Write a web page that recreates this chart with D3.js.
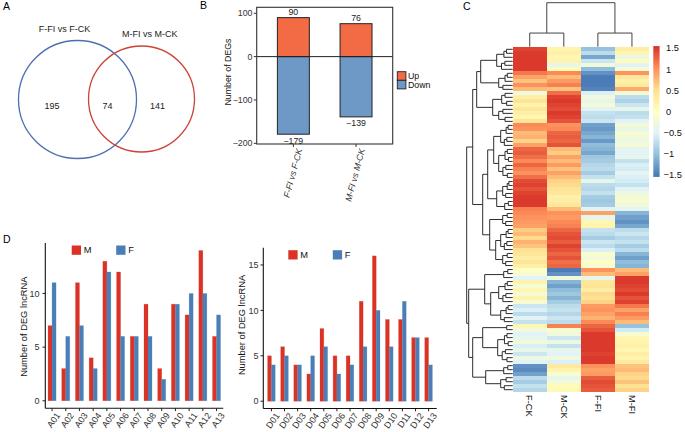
<!DOCTYPE html>
<html><head><meta charset="utf-8">
<script src="https://cdn.jsdelivr.net/npm/d3@7"></script>
<style>
body{margin:0;background:#fff;}
svg{display:block;font-family:"Liberation Sans",Arial,Helvetica,sans-serif;}
</style></head><body>
<svg id="c" width="685" height="432"></svg>
<script>
// ---------------- DATA ----------------
const vennSets = ["F-FI vs F-CK", "M-FI vs M-CK"];
const vennCounts = [195, 74, 141]; // only F, both, only M

const degComparisons = ["F-FI vs F-CK", "M-FI vs M-CK"];
const degUp = [90, 76];
const degDown = [-179, -139];
const degTicks = [100, 0, -100, -200];
const degLegend = ["Up", "Down"];

const heatCols = ["F-CK", "M-CK", "F-FI", "M-FI"];
const heatRows = [
  [1.45, 0.2, -1.0, 0.3], [1.5, 0.25, -0.75, 0.15], [1.5, 0.15, -1.2, -0.35], [1.5, 0.2, -0.65, 0.05],
  [1.5, -0.4, -0.25, -0.5], [1.5, 0.05, -1.05, -0.2],
  [1.15, 1.05, -1.35, 1.0], [0.9, 0.75, -1.5, 0.4], [0.7, 0.95, -1.5, 0.25], [1.0, 1.1, -1.5, 0.35], [0.75, 0.7, -1.45, 0.85],
  [-0.25, 1.2, -0.55, -0.2], [0.25, 1.45, -0.25, -0.75], [0.45, 1.5, -0.4, -0.85], [0.2, 1.45, -0.2, -0.65],
  [0.4, 1.4, -0.5, -0.4], [0.25, 1.5, -0.7, -0.75], [0.15, 1.45, -0.75, -0.7], [0.45, 1.35, -0.65, -0.5],
  [1.05, 1.0, -1.25, -0.2], [1.0, 1.05, -1.3, -0.4], [0.75, 1.25, -1.2, -0.15], [0.8, 1.3, -1.1, -0.25],
  [0.6, 1.25, -1.3, -0.3], [0.9, 1.35, -1.05, -0.2],
  [1.25, 0.75, -1.1, -0.45], [1.3, 0.65, -1.2, -0.5], [1.2, 0.9, -0.95, -0.4], [1.05, 0.75, -0.9, -0.7],
  [1.25, 0.95, -0.8, -0.55], [1.1, 0.7, -0.75, -0.6], [1.0, 0.9, -0.9, -0.45], [1.2, 0.75, -0.7, -0.55],
  [1.4, 0.6, -0.4, -0.6], [1.45, 0.55, -0.75, -0.7], [1.35, 0.45, -0.8, -0.5], [1.45, 0.4, -0.7, -0.3],
  [1.5, 0.25, -0.9, -0.2], [1.5, 0.3, -0.95, -0.15], [1.5, 0.4, -0.9, -0.25], [1.1, 0.75, -0.5, -0.45],
  [1.05, 1.0, 0.9, -1.1], [1.0, 0.95, -0.4, -1.25], [0.95, 1.05, 0.15, -1.35], [0.9, 1.1, 0.2, -1.2],
  [0.65, 1.25, -0.7, -0.75], [0.75, 1.35, -0.75, -0.65], [0.55, 1.4, -0.9, -0.8], [0.8, 1.3, -0.65, -0.7],
  [0.7, 1.45, -0.75, -0.9], [0.5, 1.35, -0.55, -0.75],
  [0.4, 1.25, -0.15, -1.1], [0.3, 1.35, -0.2, -1.25], [0.45, 1.2, -0.05, -1.05], [0.25, 1.25, -0.15, -1.1],
  [-0.05, -1.5, 1.0, 0.75], [-0.15, -1.35, 0.75, 0.9], [-0.5, -0.25, -0.4, 1.5],
  [0.2, -1.1, 0.4, 1.5], [-0.15, -1.25, 0.45, 1.45], [0.15, -1.05, 0.3, 1.4], [-0.2, -0.95, 0.55, 1.5],
  [0.2, -1.1, 0.5, 1.35], [-0.15, -0.9, 0.6, 1.45],
  [-0.65, -0.75, 0.95, 1.15], [-0.55, -0.7, 1.0, 0.9], [-0.75, -0.8, 0.9, 1.1], [-0.5, -0.65, 0.8, 0.95],
  [-0.7, -0.75, 1.05, 0.75],
  [0.15, 1.1, 1.25, -1.0], [-0.25, -0.15, 1.35, -0.6],
  [-0.5, -0.25, 1.5, -0.15], [-0.4, -0.65, 1.5, 0.15], [-0.25, -0.3, 1.5, 0.2], [-0.55, -0.7, 1.5, 0.25],
  [-0.4, -0.4, 1.5, 0.15], [-0.65, -0.5, 1.45, 0.3], [-0.3, -0.25, 1.5, 0.2], [-0.5, -0.55, 1.5, 0.35],
  [-1.35, 0.35, 1.0, 0.7], [-1.4, 0.2, 0.9, 0.75], [-1.25, -0.15, 0.95, 0.6],
  [-0.75, -0.4, 1.3, 0.55], [-0.9, -0.2, 1.4, 0.7], [-0.7, 0.05, 1.35, 0.5], [-0.8, 0.1, 1.3, 0.6]
];
const heatLegendTicks = [1.5, 1, 0.5, 0, -0.5, -1, -1.5];
// row dendrogram: [height, left, right]; leaf blocks {r:[first,last], d:height}
const rowTree = [46,
  [40,
    [36, [32, {r:[0,5], d:16}, {r:[6,10], d:14}], {r:[11,18], d:20}],
    [30,
      [25, [19, {r:[19,24], d:12}, {r:[25,32], d:14}], [16, {r:[33,37], d:10}, {r:[38,40], d:8}]],
      [23, {r:[41,44], d:10}, [17, {r:[45,50], d:12}, {r:[51,54], d:10}]]]],
  [44,
    [28, {r:[55,57], d:9}, [22, {r:[58,63], d:14}, {r:[64,68], d:12}]],
    [40, [30, {r:[69,70], d:6}, {r:[71,78], d:15}], [27, {r:[79,81], d:9}, {r:[82,85], d:12}]]]
];
const colTree = [1, [0.31, 0, 1], [0.31, 2, 3]];

const groupsA = ["A01","A02","A03","A04","A05","A06","A07","A08","A09","A10","A11","A12","A13"];
const mA = [7, 3, 11, 4, 13, 12, 6, 9, 3, 9, 8, 14, 6];
const fA = [11, 6, 7, 3, 12, 6, 6, 6, 2, 9, 10, 10, 8];
const ticksA = [0, 5, 10];
const groupsD = ["D01","D02","D03","D04","D05","D06","D07","D08","D09","D10","D11","D12","D13"];
const mD = [5, 6, 4, 3, 8, 5, 5, 11, 16, 9, 9, 7, 7];
const fD = [4, 5, 4, 5, 6, 3, 4, 6, 10, 6, 11, 7, 4];
const ticksD = [0, 5, 10, 15];
const sexKeys = ["M", "F"];

// ---------------- DRAW ----------------
const svg = d3.select("#c");
const TXT = "#333";

// panel labels
[["A",3,10],["B",200,9],["C",463,10],["D",3,243]].forEach(([t,x,y]) =>
  svg.append("text").attr("x",x).attr("y",y).attr("font-size",10.5).attr("fill","#000").text(t));

// ===== Panel A: Venn =====
const gA = svg.append("g");
gA.append("circle").attr("cx",77.5).attr("cy",99.5).attr("r",59).attr("fill","none").attr("stroke","#4F70B0").attr("stroke-width",1.3);
gA.append("circle").attr("cx",141.5).attr("cy",99).attr("r",53).attr("fill","none").attr("stroke","#CC4336").attr("stroke-width",1.3);
gA.append("text").attr("x",64.5).attr("y",32).attr("text-anchor","middle").attr("font-size",9).attr("fill","#222").text(vennSets[0]);
gA.append("text").attr("x",149.7).attr("y",37.3).attr("text-anchor","middle").attr("font-size",9).attr("fill","#222").text(vennSets[1]);
[52, 107.5, 157.5].forEach((x,i) =>
  gA.append("text").attr("x",x).attr("y",109).attr("text-anchor","middle").attr("font-size",9).attr("fill","#222").text(vennCounts[i]));

// ===== Panel B: up/down bars =====
const gB = svg.append("g");
const bx = d3.scaleBand().domain(degComparisons).range([256.7, 392.7]).paddingInner(0.49).paddingOuter(0.33);
const by = d3.scaleLinear().domain([-201.6, 113.8]).range([144, 7.3]);
const upCol = "#F36B44", downCol = "#6E99C6";
degComparisons.forEach((c,i) => {
  gB.append("rect").attr("x",bx(c)).attr("width",bx.bandwidth()).attr("y",by(degUp[i])).attr("height",by(0)-by(degUp[i]))
    .attr("fill",upCol).attr("stroke","#222").attr("stroke-width",1);
  gB.append("rect").attr("x",bx(c)).attr("width",bx.bandwidth()).attr("y",by(0)).attr("height",by(degDown[i])-by(0))
    .attr("fill",downCol).attr("stroke","#222").attr("stroke-width",1);
  gB.append("text").attr("x",bx(c)+bx.bandwidth()/2).attr("y",by(degUp[i])-2.5).attr("text-anchor","middle")
    .attr("font-size",8.8).attr("fill","#222").text(degUp[i]);
  gB.append("text").attr("x",bx(c)+bx.bandwidth()/2).attr("y",by(degDown[i])+3).attr("dy","0.72em").attr("text-anchor","middle")
    .attr("font-size",8.8).attr("fill","#222").text("\u2212"+Math.abs(degDown[i]));
});
gB.append("line").attr("x1",256.7).attr("x2",392.7).attr("y1",by(0)).attr("y2",by(0)).attr("stroke","#222").attr("stroke-width",1);
gB.append("rect").attr("x",256.7).attr("y",7.3).attr("width",136).attr("height",136.7).attr("fill","none").attr("stroke","#333").attr("stroke-width",1.1);
degTicks.forEach(t => {
  gB.append("line").attr("x1",253.8).attr("x2",256.7).attr("y1",by(t)).attr("y2",by(t)).attr("stroke","#333");
  gB.append("text").attr("x",252.5).attr("y",by(t)).attr("dy","0.35em").attr("text-anchor","end").attr("font-size",8.8).attr("fill",TXT)
    .text(t < 0 ? "\u2212" + Math.abs(t) : t);
});
degComparisons.forEach(c => {
  const cx = bx(c) + bx.bandwidth()/2;
  gB.append("line").attr("x1",cx).attr("x2",cx).attr("y1",144).attr("y2",147).attr("stroke","#333");
  gB.append("text").attr("transform",`translate(${cx+3},148) rotate(-75)`).attr("dy","0.7em").attr("text-anchor","end")
    .attr("font-size",8.8).attr("font-style","italic").attr("fill",TXT).text(c);
});
gB.append("text").attr("transform","translate(230.5,72) rotate(-90)").attr("text-anchor","middle").attr("font-size",8.8).attr("fill","#111").text("Number of DEGs");
degLegend.forEach((k,i) => {
  gB.append("rect").attr("x",397.3).attr("y",71.7+i*8.6).attr("width",8.6).attr("height",8.6).attr("fill",i?downCol:upCol).attr("stroke","#222").attr("stroke-width",0.9);
  gB.append("text").attr("x",408).attr("y",76+i*8.6).attr("dy","0.35em").attr("font-size",8.8).attr("fill","#111").text(k);
});

// ===== Panel C: heatmap =====
const gC = svg.append("g");
const hx = d3.scaleBand().domain(heatCols).range([512.7, 649]);
const hy = d3.scaleBand().domain(d3.range(heatRows.length)).range([47.3, 391.7]);
const pal = ["#4575B4","#91BFDB","#E0F3F8","#FFFFBF","#FEE090","#FC8D59","#D73027"];
const color = d3.scaleLinear().domain(d3.range(7).map(i => -1.55 + i*3.1/6)).range(pal).clamp(true);
heatRows.forEach((row,ri) => row.forEach((v,ci) => {
  gC.append("rect").attr("x",hx(heatCols[ci])).attr("y",hy(ri)).attr("width",hx.bandwidth()+0.4).attr("height",hy.bandwidth()+0.4)
    .attr("fill",color(v)).attr("shape-rendering","crispEdges");
}));
heatCols.forEach(c => gC.append("text").attr("transform",`translate(${hx(c)+hx.bandwidth()/2},395) rotate(90)`).attr("dy","0.35em")
  .attr("font-size",9.3).attr("fill","#111").text(c));

// row dendrogram
const rdx = d3.scaleLinear().domain([0,46]).range([512.7,466.7]);
function subTree(a,b,d,k){
  if (a===b) return {d:0, y: hy(a)+hy.bandwidth()/2};
  const m = Math.floor((a+b)/2);
  const c1 = subTree(a,m,d*(k%2?0.7:0.55),k+1), c2 = subTree(m+1,b,d*(k%2?0.55:0.7),k+1);
  return {d:Math.max(d,0.8), children:[c1,c2], y:(c1.y+c2.y)/2};
}
function build(n){
  if (Array.isArray(n)) { const c1 = build(n[1]), c2 = build(n[2]); return {d:n[0], children:[c1,c2], y:(c1.y+c2.y)/2}; }
  return subTree(n.r[0], n.r[1], n.d, 0);
}
const rroot = build(rowTree);
const dend = gC.append("g").attr("stroke","#222").attr("stroke-width",0.95).attr("fill","none");
(function drawR(n){
  if (!n.children) return;
  const x = rdx(n.d);
  dend.append("line").attr("x1",x).attr("x2",x).attr("y1",n.children[0].y).attr("y2",n.children[1].y);
  n.children.forEach(c => { dend.append("line").attr("x1",x).attr("x2",rdx(c.d)).attr("y1",c.y).attr("y2",c.y); drawR(c); });
})(rroot);
// column dendrogram
const cdy = d3.scaleLinear().domain([0,1]).range([46.7,2.7]);
function buildC(n){
  if (!Array.isArray(n)) return {h:0, x:hx(heatCols[n])+hx.bandwidth()/2};
  const c1 = buildC(n[1]), c2 = buildC(n[2]); return {h:n[0], children:[c1,c2], x:(c1.x+c2.x)/2};
}
const cdend = gC.append("g").attr("stroke","#444").attr("stroke-width",1).attr("fill","none");
(function drawC(n){
  if (!n.children) return;
  const y = cdy(n.h);
  cdend.append("line").attr("x1",n.children[0].x).attr("x2",n.children[1].x).attr("y1",y).attr("y2",y);
  n.children.forEach(c => { cdend.append("line").attr("x1",c.x).attr("x2",c.x).attr("y1",y).attr("y2",cdy(c.h)); drawC(c); });
})(buildC(colTree));

// heat legend
const ly = d3.scaleLinear().domain([-1.5,1.5]).range([174.8,48.2]);
const grad = svg.append("defs").append("linearGradient").attr("id","hg").attr("x1",0).attr("x2",0).attr("y1",1).attr("y2",0);
pal.forEach((c,i) => grad.append("stop").attr("offset",i/6).attr("stop-color",c));
gC.append("rect").attr("x",653.3).attr("y",ly(1.55)).attr("width",6.3).attr("height",ly(-1.55)-ly(1.55)).attr("fill","url(#hg)");
heatLegendTicks.forEach(t => gC.append("text").attr("x",t<0?663.5:666).attr("y",ly(t)).attr("dy","0.35em").attr("font-size",9.3).attr("fill","#111")
  .text(t<0 ? "\u2212"+Math.abs(t) : t));

// ===== Panel D: grouped bars =====
const mCol = "#DA3326", fCol = "#4A7EB7";
function groupChart(groups, mv, fv, ticks, x0, x1, yTop, yBot, dom, pInner, pOuter, tickEnd, titleX, titleY, legX) {
  const g = svg.append("g");
  const x = d3.scaleBand().domain(groups).range([x0,x1]).paddingInner(pInner).paddingOuter(pOuter);
  const xs = d3.scaleBand().domain(sexKeys).range([0, x.bandwidth()]);
  const y = d3.scaleLinear().domain(dom).range([yBot, yTop]);
  groups.forEach((grp,i) => {
    [[mv[i],"M",mCol],[fv[i],"F",fCol]].forEach(([v,k,c]) =>
      g.append("rect").attr("x",x(grp)+xs(k)).attr("width",xs.bandwidth()).attr("y",y(v)).attr("height",y(0)-y(v))
        .attr("fill",c).attr("stroke",c).attr("stroke-opacity",0.35).attr("stroke-width",0.6));
    const cx = x(grp)+x.bandwidth()/2;
    g.append("line").attr("x1",cx).attr("x2",cx).attr("y1",yBot).attr("y2",yBot+2.8).attr("stroke","#222");
    g.append("text").attr("transform",`translate(${cx+3.5},${yBot+3.5}) rotate(-55)`).attr("dy","0.7em").attr("text-anchor","end")
      .attr("font-size",9).attr("fill",TXT).text(grp);
  });
  g.append("line").attr("x1",x0).attr("x2",x0).attr("y1",yTop).attr("y2",yBot).attr("stroke","#111").attr("stroke-width",1.1);
  g.append("line").attr("x1",x0).attr("x2",x1).attr("y1",yBot).attr("y2",yBot).attr("stroke","#111").attr("stroke-width",1.1);
  ticks.forEach(t => {
    g.append("line").attr("x1",x0-2.8).attr("x2",x0).attr("y1",y(t)).attr("y2",y(t)).attr("stroke","#222");
    g.append("text").attr("x",tickEnd).attr("y",y(t)).attr("dy","0.35em").attr("text-anchor","end").attr("font-size",9).attr("fill",TXT).text(t);
  });
  g.append("text").attr("transform",`translate(${titleX},${titleY}) rotate(-90)`).attr("text-anchor","middle").attr("font-size",9.3).attr("fill","#111").text("Number of DEG lncRNA");
  sexKeys.forEach((k,i) => {
    const lx = legX + i*44.5;
    g.append("rect").attr("x",lx).attr("y",yTop+2.5).attr("width",9.3).attr("height",9.3).attr("fill",i?fCol:mCol);
    g.append("text").attr("x",lx+12).attr("y",yTop+7.2).attr("dy","0.35em").attr("font-size",9.3).attr("fill","#111").text(k);
  });
}
groupChart(groupsA, mA, fA, ticksA, 45.3, 223.3, 243, 408.3, [-0.7,14.7], 0.415, 0.2, 39.5, 26.5, 326.7, 71.7);
groupChart(groupsD, mD, fD, ticksD, 263.3, 436.7, 247.7, 408.5, [-0.8,16.9], 0.42, 0.33, 258.5, 244.5, 325, 288.3);
</script>
</body></html>
